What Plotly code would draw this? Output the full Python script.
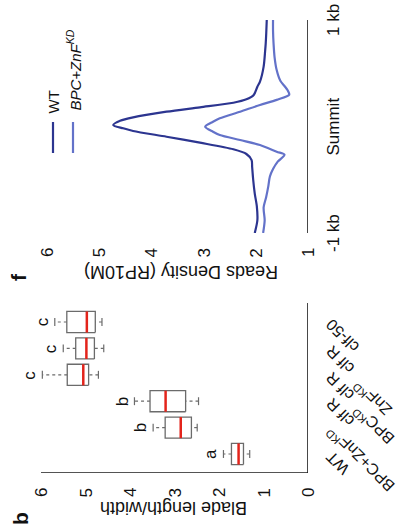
import plotly.graph_objects as go

# ---------------- Panel b data (blade length/width boxes) ----------------
categories = ["WT", "BPC+ZnF KD", "BPC KD clf R", "ZnF KD clf R", "clf R", "clf-50"]
label_near = ["WT", "BPC+ZnF<sup>KD</sup>", "clf R", "clf R", "clf R", "clf-50"]
label_far = ["", "", "BPC<sup>KD</sup>", "ZnF<sup>KD</sup>", "", ""]
box_low = [1.31, 2.49, 2.46, 4.71, 4.59, 4.63]
box_q1 = [1.45, 2.62, 2.75, 4.93, 4.80, 4.78]
box_med = [1.56, 2.86, 3.20, 5.05, 4.98, 4.97]
box_q3 = [1.72, 3.21, 3.55, 5.41, 5.22, 5.42]
box_high = [1.90, 3.48, 3.90, 5.97, 5.50, 5.69]
group_letters = ["a", "b", "b", "c", "c", "c"]
value_ticks = [0, 1, 2, 3, 4, 5, 6]

# ---------------- Panel f data (reads density profiles) ----------------
wt_pos = [-1000, -880, -750, -630, -500, -380, -315, -258, -214, -152, -96, -42,
          -17, 14, 54, 86, 139, 180, 223, 255, 296, 374, 421, 562, 718, 781, 875, 1000]
wt_density = [2.02, 1.97, 1.98, 2.02, 2.05, 2.07, 2.08, 2.18, 2.43, 3.07, 3.71, 4.35,
              4.54, 4.73, 4.60, 4.35, 3.71, 3.07, 2.43, 2.18, 2.04, 1.97, 1.92, 1.85,
              1.82, 1.81, 1.80, 1.79]
kd_pos = [-1000, -880, -760, -660, -560, -470, -400, -330, -265, -237, -174, -127,
          -80, -49, -2, 45, 77, 139, 202, 250, 298, 340, 380, 430, 530, 650, 780,
          900, 1000]
kd_density = [1.86, 1.83, 1.85, 1.80, 1.76, 1.73, 1.67, 1.58, 1.45, 1.60, 1.92, 2.30,
              2.69, 2.82, 2.97, 2.82, 2.69, 2.30, 1.92, 1.60, 1.36, 1.39, 1.45, 1.53,
              1.60, 1.64, 1.66, 1.67, 1.67]
density_ticks = [1, 2, 3, 4, 5, 6]
pos_ticks = [-1000, 0, 1000]
pos_labels = ["-1 kb", "Summit", "1 kb"]

W, H = 409, 529
FONT = "Arial, Liberation Sans, sans-serif"
GRAY = "#6b6b6b"
RED = "#e3241b"
WT_C = "#2c3590"
KD_C = "#6372c9"
AX = "#1a1a1a"
AXW = 1.6

# panel geometry (pixels in the 409x529 page)
B_X0, B_X1, B_Y0, B_Y1 = 41, 308, 303, 473
F_X0, F_X1, F_Y0, F_Y1 = 47, 308, 20, 233
F_XAXIS_Y = 243
B_XR = [6, 0]
B_YR = [-0.72, 5.72]
F_XR = [6, 1]
F_YR = [-1000, 1000]


def px(x):
    return x / W


def py(y):
    return 1 - y / H


fig = go.Figure()

# ----- boxes, drawn horizontally (rotated figure) -----
hh = 0.4   # half box height in category units
cap = 0.15
rx, ry, mx, my, wx, wy, cx, cy = [], [], [], [], [], [], [], []
for i in range(len(categories)):
    rx += [box_q1[i], box_q3[i], box_q3[i], box_q1[i], box_q1[i], None]
    ry += [i - hh, i - hh, i + hh, i + hh, i - hh, None]
    mx += [box_med[i], box_med[i], None]
    my += [i - hh, i + hh, None]
    wx += [box_q3[i], box_high[i], None, box_low[i], box_q1[i], None]
    wy += [i, i, None, i, i, None]
    cx += [box_high[i], box_high[i], None, box_low[i], box_low[i], None]
    cy += [i - cap, i + cap, None, i - cap, i + cap, None]

fig.add_trace(go.Scatter(x=wx, y=wy, mode="lines", xaxis="x", yaxis="y",
                         line=dict(color=GRAY, width=1.2, dash="3px,3px"),
                         showlegend=False, hoverinfo="skip"))
fig.add_trace(go.Scatter(x=cx, y=cy, mode="lines", xaxis="x", yaxis="y",
                         line=dict(color=GRAY, width=1.2),
                         showlegend=False, hoverinfo="skip"))
fig.add_trace(go.Scatter(x=rx, y=ry, mode="lines", xaxis="x", yaxis="y",
                         line=dict(color=GRAY, width=1.3),
                         showlegend=False, hoverinfo="skip"))
fig.add_trace(go.Scatter(x=mx, y=my, mode="lines", xaxis="x", yaxis="y",
                         line=dict(color=RED, width=2.5),
                         showlegend=False, hoverinfo="skip"))

# ----- profile lines -----
fig.add_trace(go.Scatter(x=wt_density, y=wt_pos, mode="lines", xaxis="x2", yaxis="y2",
                         line=dict(color=WT_C, width=2.2, shape="spline", smoothing=0.8),
                         showlegend=False, hoverinfo="skip"))
fig.add_trace(go.Scatter(x=kd_density, y=kd_pos, mode="lines", xaxis="x2", yaxis="y2",
                         line=dict(color=KD_C, width=2.2, shape="spline", smoothing=0.8),
                         showlegend=False, hoverinfo="skip"))

# ----- axis frames drawn as line traces (in each axis' own units) -----
bxu = (B_XR[0] - B_XR[1]) / (B_X1 - B_X0)     # value units per pixel (b)
byu = (B_YR[1] - B_YR[0]) / (B_Y1 - B_Y0)     # category units per pixel (b)
fxu = (F_XR[0] - F_XR[1]) / (F_X1 - F_X0)     # density units per pixel (f)
fyu = (F_YR[1] - F_YR[0]) / (F_Y1 - F_Y0)     # position units per pixel (f)

ax_bx = [B_XR[0], B_XR[1], None, B_XR[1], B_XR[1], None]
ax_by = [B_YR[0], B_YR[0], None, B_YR[0], B_YR[1], None]
for v in value_ticks:
    ax_bx += [v, v, None]
    ax_by += [B_YR[0], B_YR[0] - 6 * byu, None]
for i in range(len(categories)):
    ax_bx += [B_XR[1], B_XR[1] - 5 * bxu, None]
    ax_by += [i, i, None]
fig.add_trace(go.Scatter(x=ax_bx, y=ax_by, mode="lines", xaxis="x", yaxis="y",
                         line=dict(color=AX, width=AXW), cliponaxis=False,
                         showlegend=False, hoverinfo="skip"))

f_line_y = F_YR[0] - (F_XAXIS_Y - F_Y1) * fyu
ax_fx = [F_XR[0], F_XR[1], None, F_XR[1], F_XR[1], None]
ax_fy = [f_line_y, f_line_y, None, F_YR[0], F_YR[1], None]
for v in density_ticks:
    ax_fx += [v, v, None]
    ax_fy += [f_line_y, f_line_y - 5 * fyu, None]
for v in pos_ticks:
    ax_fx += [F_XR[1], F_XR[1] - 8 * fxu, None]
    ax_fy += [v, v, None]
fig.add_trace(go.Scatter(x=ax_fx, y=ax_fy, mode="lines", xaxis="x2", yaxis="y2",
                         line=dict(color=AX, width=AXW), cliponaxis=False,
                         showlegend=False, hoverinfo="skip"))

axis_common = dict(showline=False, ticks="", showgrid=False, zeroline=False,
                   automargin=False, showticklabels=False)


def ann(x, y, text, size, angle, xref="paper", yref="paper", **kw):
    d = dict(x=x, y=y, xref=xref, yref=yref, text=text, showarrow=False,
             textangle=angle, font=dict(family=FONT, size=size, color="#111"))
    d.setdefault("xanchor", "center")
    d.setdefault("yanchor", "middle")
    d.update(kw)
    return d


annotations = []
# tick labels
for v in value_ticks:
    annotations.append(ann(v, py(493), str(v), 17, -90, xref="x"))
for v in density_ticks:
    annotations.append(ann(v, py(253), str(v), 17, -90, xref="x2"))
for v, lab in zip(pos_ticks, pos_labels):
    annotations.append(ann(px(333), v, lab, 17, -90, yref="y2"))

# group letters
for i in range(len(categories)):
    annotations.append(ann(box_high[i], i, group_letters[i], 17, -90, xref="x", yref="y",
                           xanchor="right", xshift=-1))

# category labels (rotated, text ending near each tick)
for i in range(len(categories)):
    annotations.append(ann(0, i, label_near[i], 16, -135, xref="x", yref="y",
                           xanchor="left", yanchor="top", xshift=12, yshift=9))
    if label_far[i]:
        annotations.append(ann(0, i, label_far[i], 16, -135, xref="x", yref="y",
                               xanchor="left", yanchor="top", xshift=39, yshift=3))

annotations += [
    ann(px(174), py(508), "Blade length/width", 18, 180),
    ann(px(181), py(272), "Reads Density (RP10M)", 18, 180),
    ann(px(20), py(519), "<b>b</b>", 21, -90),
    ann(px(18), py(277), "<b>f</b>", 21, -90),
    ann(px(53), py(115), "WT", 15, -90, yanchor="bottom"),
    ann(px(74), py(113), "<i>BPC+ZnF<sup>KD</sup></i>", 15, -90, yanchor="bottom"),
]

shapes = [
    dict(type="line", xref="paper", yref="paper", x0=px(53), x1=px(53), y0=py(122), y1=py(153),
         line=dict(color=WT_C, width=2.2)),
    dict(type="line", xref="paper", yref="paper", x0=px(73), x1=px(73), y0=py(122), y1=py(153),
         line=dict(color=KD_C, width=2.2)),
]

fig.update_layout(
    width=W, height=H, margin=dict(l=0, r=0, t=0, b=0, autoexpand=False),
    paper_bgcolor="white", plot_bgcolor="white", showlegend=False,
    xaxis=dict(domain=[px(B_X0), px(B_X1)], range=B_XR, anchor="y", **axis_common),
    yaxis=dict(domain=[py(B_Y1), py(B_Y0)], range=B_YR, anchor="x", side="right",
               **axis_common),
    xaxis2=dict(domain=[px(F_X0), px(F_X1)], range=F_XR, anchor="free",
                position=py(F_XAXIS_Y), **axis_common),
    yaxis2=dict(domain=[py(F_Y1), py(F_Y0)], range=F_YR, anchor="free",
                position=px(F_X1), side="right", **axis_common),
    annotations=annotations, shapes=shapes,
)

fig.write_html("out.html")
